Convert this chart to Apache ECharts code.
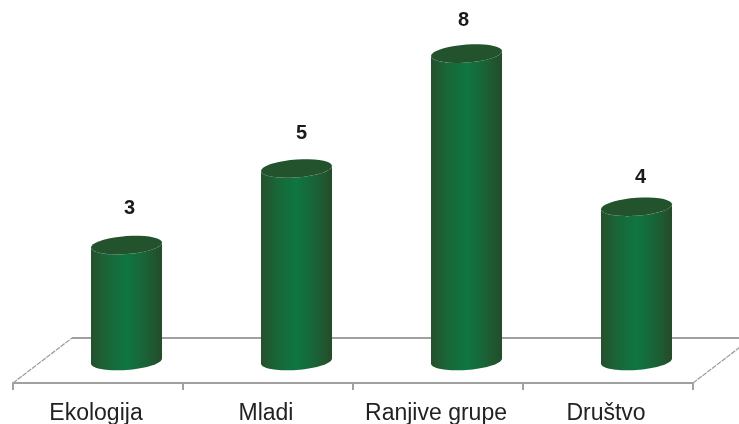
<!DOCTYPE html>
<html><head><meta charset="utf-8">
<style>html,body{margin:0;padding:0;background:#fff}#c{width:739px;height:424px}</style>
<script src="https://cdn.jsdelivr.net/npm/echarts@6/dist/echarts.min.js"></script>
</head><body><div id="c"></div>
<script>
const categories = ['Ekologija', 'Mladi', 'Ranjive grupe', 'Društvo'];
const values = [3, 5, 8, 4];

const DEPTH_X = 59, DEPTH_Y = 45;
const A = 35.5, B = 9, SHEAR = 0.07;
const LINE = '#a0a0a0';
const LABEL_NUDGE = [[1, -5], [3, -3], [-5, -1], [2, 3]];
const chart = echarts.init(document.getElementById('c'), null, {renderer: 'canvas'});

function arc(cx, cy, from, to) {
  const pts = [];
  for (let i = 0; i <= 36; i++) {
    const t = from + (to - from) * i / 36;
    const dx = A * Math.cos(t);
    pts.push([cx + dx, cy + B * Math.sin(t) - SHEAR * dx]);
  }
  return pts;
}

function renderBar(params, api) {
  const cat = api.value(0), v = api.value(1);
  const base = api.coord([cat, 0]);
  const top = api.coord([cat, v]);
  const cx = base[0] + DEPTH_X / 2 - 1;
  const by = base[1] - DEPTH_Y / 2 + 0.5;
  const ty = top[1] - DEPTH_Y / 2 - 0.5;
  const body = arc(cx, ty, Math.PI, 0).concat(arc(cx, by, 0, Math.PI));
  const n = LABEL_NUDGE[params.dataIndex];
  return {type: 'group', children: [
    {type: 'polygon', shape: {points: body}, style: {
      fill: new echarts.graphic.LinearGradient(0, 0, 1, 0, [
        {offset: 0, color: '#25502c'},
        {offset: 0.22, color: '#196637'},
        {offset: 0.5, color: '#0e7642'},
        {offset: 0.78, color: '#1a6136'},
        {offset: 1, color: '#244c29'}
      ])
    }},
    {type: 'polygon', shape: {points: arc(cx, ty, 0, Math.PI * 2)}, style: {fill: '#23532c'}},
    {type: 'text', x: cx + 2 + n[0], y: ty - 32 + n[1], style: {
      text: String(v), fill: '#1a1a1a', font: 'bold 20px "Liberation Sans"',
      align: 'center', verticalAlign: 'middle'
    }}
  ]};
}

function renderFloor(params, api) {
  const l = api.coord([0, 0]), r = api.coord([categories.length - 1, 0]);
  const band = api.size([1, 0])[0];
  const x0 = l[0] - band / 2, x1 = r[0] + band / 2, y = l[1];
  const st = {stroke: LINE, lineWidth: 1.8, fill: null};
  const mk = (a, b, c, d, extra) => ({type: 'line', shape: {x1: a, y1: b, x2: c, y2: d},
    style: Object.assign({}, st, extra || {})});
  return {type: 'group', children: [
    mk(x0 + DEPTH_X, y - DEPTH_Y, x1 + DEPTH_X, y - DEPTH_Y),
    mk(x0, y, x0 + DEPTH_X, y - DEPTH_Y, {lineWidth: 1.3, lineDash: [5, 1]}),
    mk(x1, y, x1 + DEPTH_X, y - DEPTH_Y, {lineWidth: 1.3, lineDash: [5, 1]})
  ]};
}

chart.setOption({
  animation: false,
  backgroundColor: '#fff',
  grid: {left: 13, right: 46, top: 0, height: 383, outerBoundsMode: 'none'},
  xAxis: {
    type: 'category', data: categories,
    axisLine: {lineStyle: {color: LINE, width: 2}},
    axisTick: {show: true, alignWithLabel: false, length: 7, lineStyle: {color: LINE, width: 2}},
    axisLabel: {interval: 0, fontFamily: 'Liberation Sans', fontSize: 23, color: '#222', margin: 19, padding: [0, 4, 0, 0]}
  },
  yAxis: {type: 'value', min: 0, max: 10, show: false},
  series: [
    {type: 'custom', data: [[0, 0]], clip: false, silent: true, z: 1, renderItem: renderFloor,
     encode: {x: 0, y: 1}},
    {type: 'custom', data: values.map((v, i) => [i, v]), clip: false, silent: true, z: 2,
     renderItem: renderBar, encode: {x: 0, y: 1}}
  ]
});
</script></body></html>
